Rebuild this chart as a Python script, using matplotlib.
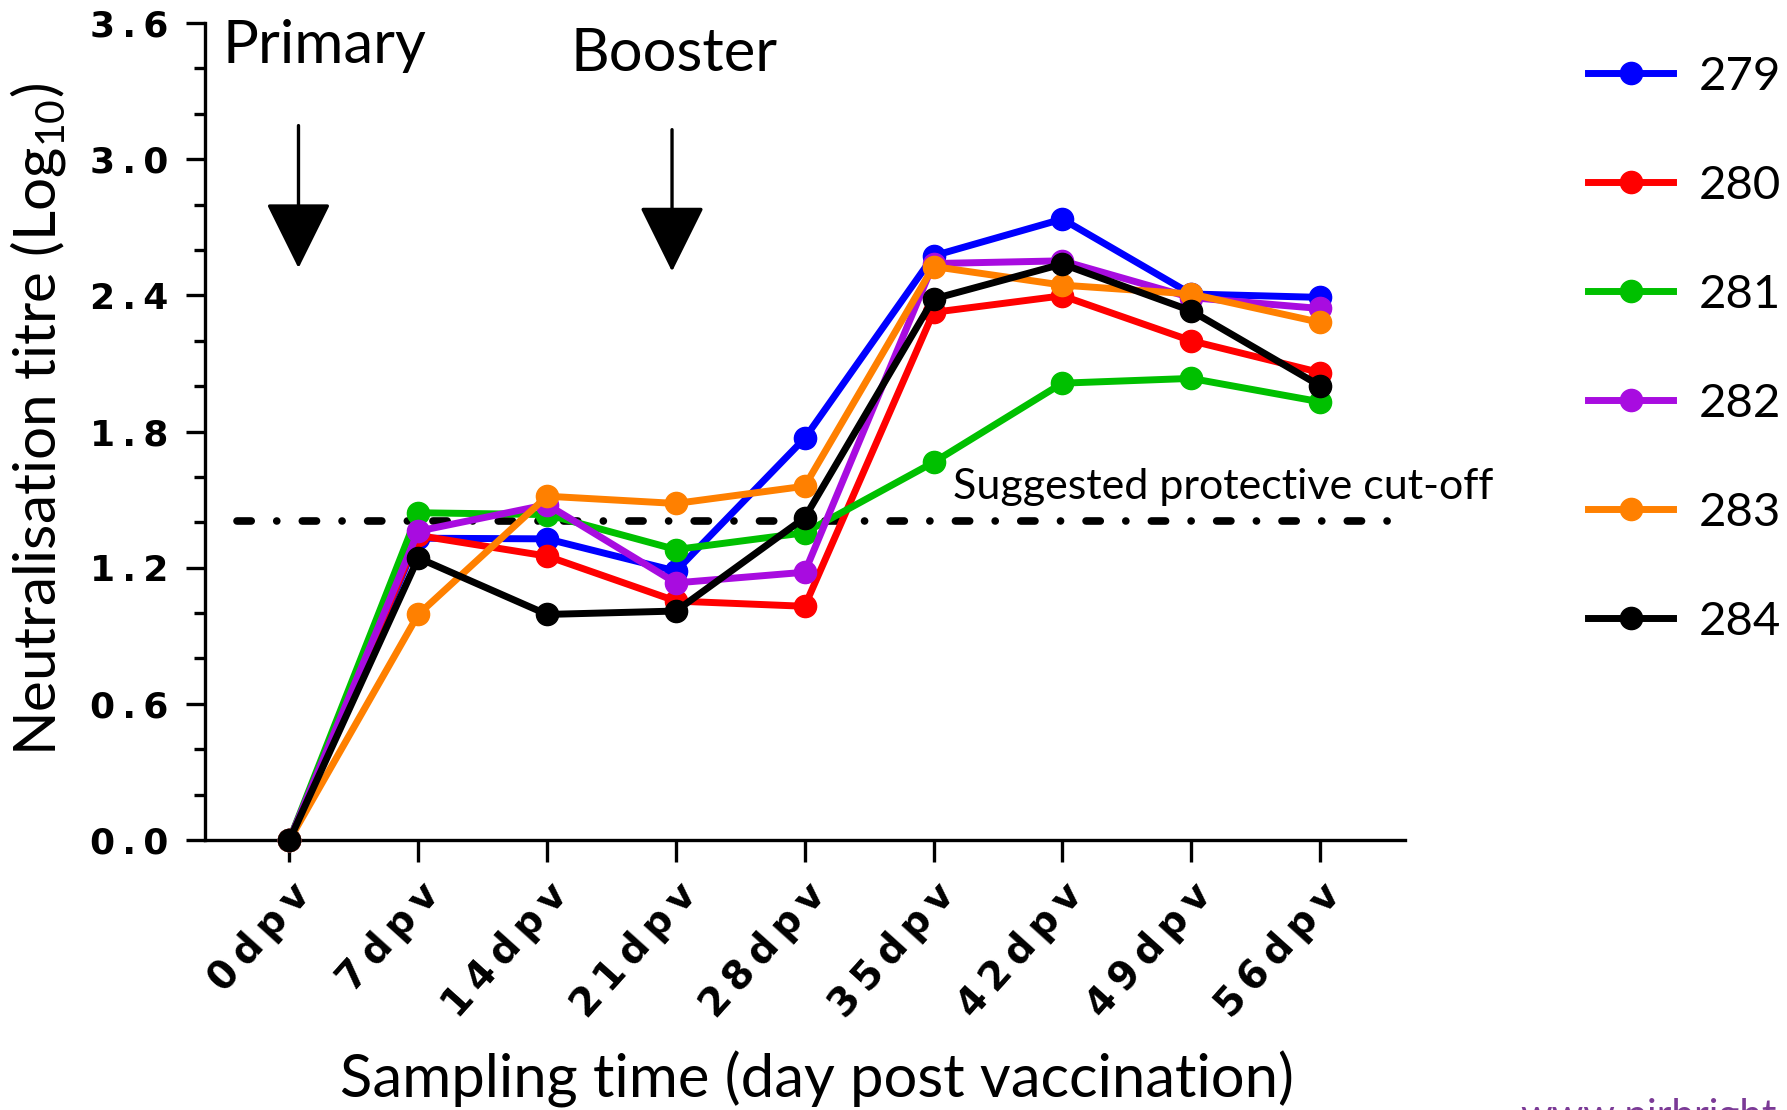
import numpy as np
import matplotlib
matplotlib.use('Agg')
import matplotlib.pyplot as plt
from matplotlib.ticker import MultipleLocator

plt.rcParams['mathtext.fontset'] = 'custom'
plt.rcParams['mathtext.rm'] = 'Lato'
plt.rcParams['mathtext.it'] = 'Lato:italic'

# sampling days
days = ['0dpv', '7dpv', '14dpv', '21dpv', '28dpv', '35dpv', '42dpv', '49dpv', '56dpv']
yticks = [0.0, 0.6, 1.2, 1.8, 2.4, 3.0, 3.6]

# neutralisation titres (log10), one list per animal
a279 = [0.0, 1.33, 1.327, 1.185, 1.77, 2.574, 2.736, 2.406, 2.391]
a280 = [0.0, 1.342, 1.251, 1.053, 1.03, 2.325, 2.398, 2.20, 2.06]
a281 = [0.0, 1.442, 1.434, 1.28, 1.354, 1.664, 2.013, 2.034, 1.931]
a282 = [0.0, 1.361, 1.478, 1.133, 1.18, 2.54, 2.552, 2.39, 2.342]
a283 = [0.0, 0.994, 1.515, 1.483, 1.559, 2.527, 2.445, 2.406, 2.281]
a284 = [0.0, 1.243, 0.994, 1.009, 1.42, 2.384, 2.538, 2.332, 2.002]

animals = ['279', '280', '281', '282', '283', '284']
colours = ['#0000ff', '#ff0000', '#00c000', '#a80ce0', '#ff8000', '#000000']
cutoff = 1.405

fig = plt.figure(figsize=(17.87, 11.10), dpi=100)
ax = fig.add_axes([0.1147, 0.2432, 0.6715, 0.7361])

x = np.arange(len(days))
for vals, name, c in zip([a279, a280, a281, a282, a283, a284], animals, colours):
    ax.plot(x, vals, '-o', color=c, lw=5, ms=16, label=name, clip_on=False, zorder=3)

# protective cut-off
ax.plot([-0.41, 8.62], [cutoff, cutoff], color='black', lw=5.5,
        dashes=(1.86, 3.34, 0.01, 3.34), dash_capstyle='round', solid_capstyle='round', zorder=2)
ax.text(5.15, 1.556, 'Suggested protective cut-off', fontsize=31, family='Lato', va='center')

# vaccination arrows
for xa, ytop, ytip in [(0.07, 3.148, 2.52), (2.97, 3.13, 2.505)]:
    ax.annotate('', xy=(xa, ytip), xytext=(xa, ytop),
                arrowprops=dict(arrowstyle='-|>,head_width=0.52,head_length=1.05',
                                mutation_scale=40, shrinkA=0, shrinkB=0,
                                color='black', lw=2.4))
for xt, yt, txt in [(-0.52, 3.50, 'Primary'), (2.18, 3.464, 'Booster')]:
    ax.text(xt, yt, txt, fontsize=43, family='Lato', va='center', ha='left')

ax.set_xlim(-0.656, 8.66)
ax.set_ylim(0, 3.6)
ax.spines['top'].set_visible(False)
ax.spines['right'].set_visible(False)
ax.spines['left'].set_linewidth(2.4)
ax.spines['bottom'].set_linewidth(2.4)

sp = '\u2009'
ax.set_yticks(yticks, labels=[sp.join('%.1f' % v) for v in yticks],
              fontsize=26, fontweight='bold', family='DejaVu Sans')
ax.yaxis.set_minor_locator(MultipleLocator(0.2))
ax.set_xticks(x, labels=[sp.join(d) for d in days], rotation=48, ha='right',
              rotation_mode='anchor', fontsize=28, fontweight='bold', family='DejaVu Sans')
ax.tick_params(axis='y', which='major', length=14, width=2.4, direction='out', pad=12)
ax.tick_params(axis='y', which='minor', length=8, width=2.4, direction='out')
ax.tick_params(axis='x', length=16, width=2.4, direction='out', pad=10)

ax.set_ylabel('Neutralisation titre (Log$_{10}$)', fontsize=42, family='Lato')
ax.yaxis.set_label_coords(-0.114, 0.515)
ax.set_xlabel('Sampling time (day post vaccination)', fontsize=43, family='Lato')
ax.xaxis.set_label_coords(0.51, -0.258)

leg = ax.legend(loc='upper left', bbox_to_anchor=(1.1525, 0.96), frameon=False,
                prop={'family': 'Lato', 'size': 34}, handlelength=1.81,
                labelspacing=1.42, handletextpad=0.53, borderaxespad=0, borderpad=0)

fig.text(0.851, -0.016, 'www.pirbright.ac.uk', color='#7b3a96', fontsize=29,
         family='Lato', va='baseline', ha='left')

fig.savefig('out.png', dpi=100)
